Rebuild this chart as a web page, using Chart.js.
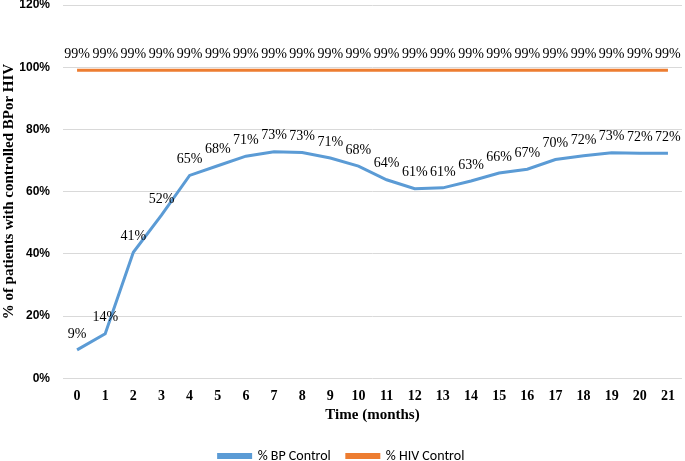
<!DOCTYPE html>
<html>
<head>
<meta charset="utf-8">
<script src="https://cdn.jsdelivr.net/npm/chart.js@4.4.0/dist/chart.umd.min.js"></script>
<style>
  html, body { margin: 0; padding: 0; background: #fff; }
  #wrap { width: 685px; height: 461px; }
</style>
</head>
<body>
<div id="wrap"><canvas id="myChart" width="685" height="461"></canvas></div>
<script>
	var months = ['0','1','2','3','4','5','6','7','8','9','10','11','12','13','14','15','16','17','18','19','20','21'];
	var bp_control = [9.1, 14.3, 40.5, 52.4, 65.2, 68.3, 71.4, 72.8, 72.6, 70.8, 68.2, 63.8, 60.9, 61.2, 63.4, 66.0, 67.2, 70.3, 71.5, 72.5, 72.3, 72.3];
	var hiv_control = [99, 99, 99, 99, 99, 99, 99, 99, 99, 99, 99, 99, 99, 99, 99, 99, 99, 99, 99, 99, 99, 99];
	var y_ticks = [0, 20, 40, 60, 80, 100, 120];

	var color_bp = '#5B9BD5';
	var color_hiv = '#ED7D31';

	// Datenbeschriftungen ueber den Punkten
	var pointLabels = {
	  id: 'pointLabels',
	  afterDatasetsDraw: function(chart) {
		var ctx = chart.ctx;
		ctx.save();
		ctx.font = '14px "Liberation Serif", "Times New Roman", serif';
		ctx.fillStyle = '#000';
		ctx.textAlign = 'center';
		ctx.textBaseline = 'bottom';
		chart.data.datasets.forEach(function(ds, i) {
		  var meta = chart.getDatasetMeta(i);
		  meta.data.forEach(function(pt, j) {
			ctx.fillText(Math.round(ds.data[j]) + '%', pt.x, pt.y - 9);
		  });
		});
		ctx.restore();
	  }
	};

	var ctx = document.getElementById('myChart').getContext('2d');
	var chart = new Chart(ctx, {
	  type: 'line',
	  data: {
		labels: months,
		datasets: [
		  { label: '% BP Control', data: bp_control, borderColor: color_bp, backgroundColor: color_bp, borderWidth: 3, pointRadius: 0, fill: false, tension: 0 },
		  { label: '% HIV Control', data: hiv_control, borderColor: color_hiv, backgroundColor: color_hiv, borderWidth: 3, pointRadius: 0, fill: false, tension: 0 }
		]
	  },
	  options: {
		responsive: false,
		animation: false,
		layout: { padding: { left: 0, right: 2, top: 5, bottom: -12 } },
		plugins: {
		  legend: {
			position: 'bottom',
			labels: {
			  boxWidth: 32,
			  boxHeight: 3,
			  padding: 16,
			  color: '#000',
			  font: { family: 'Carlito, Calibri, "Liberation Sans", sans-serif', size: 14 }
			}
		  },
		  tooltip: { enabled: false }
		},
		scales: {
		  x: {
			offset: true,
			grid: { display: false, drawTicks: false },
			border: { display: false },
			ticks: { color: '#000', font: { family: '"Liberation Serif", serif', size: 14, weight: 'bold' }, maxRotation: 0, padding: 10 },
			title: { display: true, text: 'Time (months)', color: '#000', font: { family: '"Liberation Serif", serif', size: 15, weight: 'bold' }, padding: { top: -9, bottom: 9 } }
		  },
		  y: {
			min: 0,
			max: 120,
			afterBuildTicks: function(axis) {
			  axis.ticks = y_ticks.map(function(v) { return { value: v }; });
			},
			afterFit: function(axis) {
			  axis.width = 63;
			  axis.paddingTop = 0;
			  axis.paddingBottom = 0;
			},
			grid: { color: '#D9D9D9', lineWidth: 1, drawTicks: false },
			border: { display: false },
			ticks: {
			  color: '#000',
			  padding: 13,
			  font: { family: '"Liberation Sans", Arial, sans-serif', size: 12, weight: 'bold' },
			  callback: function(value) { return value + '%'; }
			},
			title: { display: true, text: '% of patients with controlled BPor HIV', color: '#000', font: { family: '"Liberation Serif", serif', size: 15, weight: 'bold' }, padding: { top: 0, bottom: 2 } }
		  }
		}
	  },
	  plugins: [pointLabels]
	});
</script>
</body>
</html>
